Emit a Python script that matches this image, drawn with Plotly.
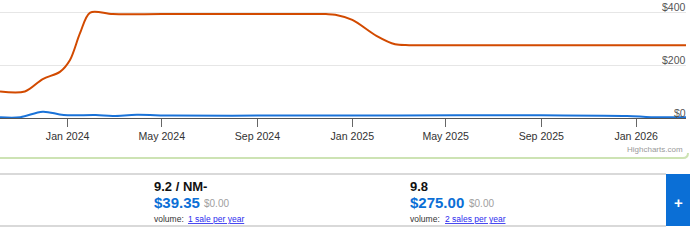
import plotly.graph_objects as go

# ---- data ----
red_dates = ["2023-10-06", "2023-11-07", "2023-11-30", "2023-12-22", "2024-01-04",
             "2024-01-17", "2024-01-30", "2024-02-28", "2024-05-01", "2024-08-01",
             "2024-11-01", "2024-11-28", "2024-12-10", "2025-01-01", "2025-02-01",
             "2025-02-25", "2025-03-15", "2025-05-01", "2025-08-01", "2025-12-01",
             "2026-03-06"]
red_values = [100, 100, 147, 174, 219, 321, 398, 392, 392, 392,
              392, 392, 390, 370, 310, 278, 275, 275, 275, 275,
              275]

blue_dates = ["2023-10-06", "2023-11-01", "2023-11-30", "2023-12-27", "2024-02-06",
              "2024-02-28", "2024-03-30", "2024-05-15", "2024-09-01", "2025-01-01",
              "2025-05-15", "2025-09-01", "2025-12-20", "2026-01-20", "2026-03-06"]
blue_values = [3, 3, 24, 11, 11, 8, 12, 9, 9, 9, 10, 10, 8, 3, 3]

x_tick_start = "2024-01-01"
y_ticks = [0, 200, 400]
y_tick_labels = ["$0", "$200", "$400"]

col1 = {"grade": "9.2 / NM-", "price": "$39.35", "alt": "$0.00", "link": "1 sale per year"}
col2 = {"grade": "9.8", "price": "$275.00", "alt": "$0.00", "link": "2 sales per year"}

W, H = 690, 252
PLOT_L, PLOT_R, PLOT_T, PLOT_B = 0, 686, 0, 118
PW, PH = PLOT_R - PLOT_L, PLOT_B - PLOT_T
FONT = "Liberation Sans, Arial, sans-serif"
BLUE = "#0b6fd6"


def px(x):
    return (x - PLOT_L) / PW


def py(y):
    return (PLOT_B - y) / PH


fig = go.Figure()
fig.add_trace(go.Scatter(x=blue_dates, y=blue_values, mode="lines",
                         line=dict(color="#1a73d9", width=2, shape="spline", smoothing=1),
                         hoverinfo="skip", showlegend=False))
fig.add_trace(go.Scatter(x=red_dates, y=red_values, mode="lines",
                         line=dict(color="#d24a00", width=2, shape="spline", smoothing=0.9),
                         hoverinfo="skip", showlegend=False))

ymax = 400 * PH / (PLOT_B - 12)

fig.update_layout(
    width=W, height=H,
    margin=dict(l=PLOT_L, r=W - PLOT_R, t=PLOT_T, b=H - PLOT_B, pad=0),
    paper_bgcolor="white", plot_bgcolor="white",
    font=dict(family=FONT, size=10.5, color="#333333"),
    xaxis=dict(type="date", range=["2023-10-06", "2026-03-06"],
               tick0=x_tick_start, dtick="M4", tickformat="%b %Y",
               ticks="outside", ticklen=8, tickcolor="#666666", tickwidth=1,
               showline=True, linecolor="#555555", linewidth=1,
               showgrid=False, zeroline=False, automargin=False,
               tickfont=dict(size=10.6, color="#333333")),
    yaxis=dict(range=[0, ymax], tickvals=y_ticks, showticklabels=False,
               showgrid=True, gridcolor="#e6e6e6", gridwidth=1,
               zeroline=False, showline=False, automargin=False),
)

ann = []
# y-axis labels placed on the y scale, above each gridline at the right edge
for v, t in zip(y_ticks, y_tick_labels):
    ann.append(dict(x=(688 - PLOT_L) / PW, xref="paper", y=v, yref="y", text=t,
                    showarrow=False, xanchor="right", yanchor="middle", yshift=5,
                    font=dict(family=FONT, size=10.5, color="#555555")))

shapes = []
gy = 158
shapes.append(dict(type="path", xref="paper", yref="paper",
                   path="M %f %f L %f %f Q %f %f %f %f" % (px(0), py(gy), px(683), py(gy),
                                                          px(688), py(gy), px(688), py(gy - 5)),
                   line=dict(color="#cde3b4", width=2)))
for yy in (174, 226):
    shapes.append(dict(type="line", xref="paper", yref="paper",
                       x0=px(0), x1=px(666), y0=py(yy), y1=py(yy),
                       line=dict(color="#cccccc", width=1.5)))
shapes.append(dict(type="rect", xref="paper", yref="paper",
                   x0=px(666), x1=px(690), y0=py(226), y1=py(174),
                   fillcolor=BLUE, line=dict(width=0)))
fig.update_layout(shapes=shapes)


def text(x, y, t, size, color="#000", bold=False, anchor="left", yanchor="middle"):
    ann.append(dict(x=px(x), y=py(y), xref="paper", yref="paper",
                    text=("<b>%s</b>" % t) if bold else t, showarrow=False,
                    xanchor=anchor, yanchor=yanchor,
                    font=dict(family=FONT, size=size, color=color)))


text(685, 149, "Highcharts.com", 8, "#999999", anchor="right")

for cx, c, linkx in ((153, col1, 187.3), (409.3, col2, 443.7)):
    text(cx - 1, 186, c["grade"], 13, "#111111", bold=True)
    text(cx - 1, 202.5, c["price"], 15, BLUE, bold=True)
    priceW = {"$39.35": 45.7, "$275.00": 54.2}[c["price"]]
    text(cx + priceW + 3, 204, c["alt"], 10, "#a0a0a0")
    text(cx - 1, 219, "volume:", 8.5, "#333333")
    text(linkx - 1, 219, "<u>%s</u>" % c["link"], 8.5, "#2a2aee")

text(678, 203, "<b>+</b>", 15, "white", anchor="center")

fig.update_layout(annotations=ann)
fig.write_html("out.html")
